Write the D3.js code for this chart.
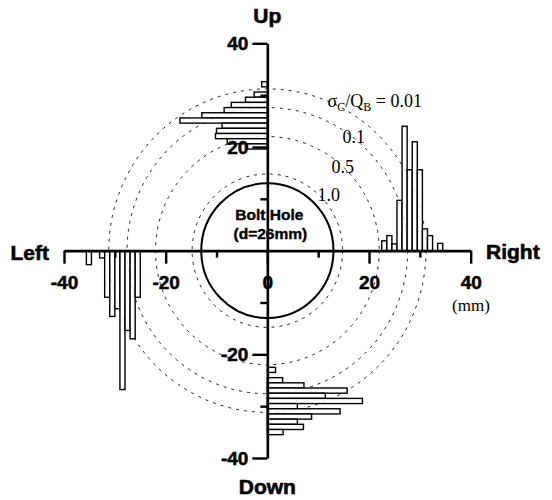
<!DOCTYPE html>
<html><head><meta charset="utf-8">
<script src="https://cdn.jsdelivr.net/npm/d3@7"></script>
<style>body{margin:0;background:#fff}svg{display:block}</style>
</head><body>
<svg id="c" width="552" height="500"></svg>
<script>
// ---- data ----
const majorTicks = [-40, -20, 0, 20, 40];
const minorTicks = [-30, -10, 10, 30];
const contourRadii = [31.2, 27.6, 22, 14.8];       // mm
const contourLabels = ["0.01", "0.1", "0.5", "1.0"];
const boltDiameter = 26;                           // mm
const binWidth = 1.0;                              // mm
// Up histogram (bars extend toward Left), centers on the y axis
const upCenters = [32.1, 30.1, 29.1, 28.1, 27.1, 26.1, 25.1, 24.1, 23.1, 22.1, 21.1, 20.1];
const upValues  = [1.1, 2.6, 4.3, 7.1, 8.5, 12.9, 17.2, 8.9, 10.0, 10.2, 7.9, 3.9];
// Right histogram (bars extend Up), centers on the x axis
const rightCenters = [23, 24, 25, 26, 27, 28, 29, 30, 31, 32, 34];
const rightValues  = [1.9, 2.9, 1.3, 9.7, 24.0, 15.6, 21.0, 15.6, 4.2, 2.9, 1.4];
// Left histogram (bars extend Down)
const leftCenters = [-35.1, -32.5, -31.5, -30.5, -29.5, -28.5, -27.5, -26.5, -25.5];
const leftValues  = [2.7, 1.4, 9.0, 12.7, 11.2, 26.8, 15.4, 17.0, 9.0];
// Down histogram (bars extend Right)
const downCenters = [-23, -25, -26, -27, -28, -29, -30, -31, -32, -33, -34, -35];
const downValues  = [1.6, 3.0, 7.2, 15.7, 11.4, 18.7, 5.9, 14.3, 8.7, 5.9, 7.1, 3.1];

// ---- drawing ----
const svg = d3.select("#c");
const xS = d3.scaleLinear().domain([-40, 40]).range([64, 470.7]);
const yS = d3.scaleLinear().domain([-40, 40]).range([458, 43.3]);
const sans = "'Liberation Sans', Arial, Helvetica, sans-serif";
const serif = "'Liberation Serif', 'Times New Roman', serif";
const cx = xS(0), cy = yS(0);

// dashed contour circles
svg.append("g").selectAll("ellipse").data(contourRadii).join("ellipse")
  .attr("cx", cx).attr("cy", cy)
  .attr("rx", d => xS(d) - cx).attr("ry", d => cy - yS(d))
  .attr("fill", "none").attr("stroke", "#222").attr("stroke-width", 1)
  .attr("stroke-dasharray", "3,5");

// bolt hole
svg.append("ellipse").attr("cx", cx).attr("cy", cy)
  .attr("rx", xS(boltDiameter / 2) - cx).attr("ry", cy - yS(boltDiameter / 2))
  .attr("fill", "none").attr("stroke", "#000").attr("stroke-width", 2);

// histograms
const barStyle = s => s.attr("fill", "#fff").attr("fill-opacity", 0.85).attr("stroke", "#000").attr("stroke-width", 1.4);
const hb = binWidth / 2;
svg.append("g").selectAll("rect").data(d3.zip(upCenters, upValues)).join("rect")
  .attr("x", d => xS(-d[1])).attr("width", d => cx - xS(-d[1]))
  .attr("y", d => yS(d[0] + hb)).attr("height", d => yS(d[0] - hb) - yS(d[0] + hb)).call(barStyle);
svg.append("g").selectAll("rect").data(d3.zip(rightCenters, rightValues)).join("rect")
  .attr("x", d => xS(d[0] - hb)).attr("width", d => xS(d[0] + hb) - xS(d[0] - hb))
  .attr("y", d => yS(d[1])).attr("height", d => cy - yS(d[1])).call(barStyle);
svg.append("g").selectAll("rect").data(d3.zip(leftCenters, leftValues)).join("rect")
  .attr("x", d => xS(d[0] - hb)).attr("width", d => xS(d[0] + hb) - xS(d[0] - hb))
  .attr("y", cy).attr("height", d => yS(-d[1]) - cy).call(barStyle);
svg.append("g").selectAll("rect").data(d3.zip(downCenters, downValues)).join("rect")
  .attr("x", cx).attr("width", d => xS(d[1]) - cx)
  .attr("y", d => yS(d[0] + hb)).attr("height", d => yS(d[0] - hb) - yS(d[0] + hb)).call(barStyle);

// axes
function styleAxis(g) {
  g.selectAll("path.domain").attr("stroke", "#000").attr("stroke-width", 2.6);
  g.selectAll(".tick line").attr("stroke", "#000").attr("stroke-width", 2.4);
  g.selectAll(".tick text").attr("fill", "#000").attr("stroke", "#000").attr("stroke-width", 0.5)
    .style("font-family", sans).style("font-weight", "bold").style("font-size", "19px");
}
const xAxis = svg.append("g").attr("transform", `translate(0,${cy})`)
  .call(d3.axisBottom(xS).tickValues(majorTicks).tickSize(13).tickSizeOuter(0).tickPadding(12)
    .tickFormat(d3.format("d")))
  .call(styleAxis);
xAxis.selectAll(".tick text").text(d => d < 0 ? "-" + Math.abs(d) : d);
svg.append("g").attr("transform", `translate(0,${cy})`)
  .call(d3.axisBottom(xS).tickValues(minorTicks).tickSize(7).tickFormat(""))
  .call(g => g.select("path.domain").remove()).call(styleAxis);

const yAxis = svg.append("g").attr("transform", `translate(${cx},0)`)
  .call(d3.axisLeft(yS).tickValues(majorTicks.filter(d => d !== 0)).tickSize(15).tickSizeOuter(0).tickPadding(4))
  .call(styleAxis);
yAxis.selectAll(".tick text").text(d => d < 0 ? "-" + Math.abs(d) : d);
svg.append("g").attr("transform", `translate(${cx},0)`)
  .call(d3.axisLeft(yS).tickValues(minorTicks).tickSize(7).tickFormat(""))
  .call(g => g.select("path.domain").remove()).call(styleAxis);

// direction titles
const title = (t, x, y, anchor) => svg.append("text").attr("x", x).attr("y", y)
  .attr("text-anchor", anchor).style("font-family", sans).style("font-weight", "bold")
  .attr("stroke", "#000").attr("stroke-width", 0.6)
  .style("font-size", "21px").text(t);
title("Up", cx, 23, "middle");
title("Down", cx, 494, "middle");
title("Left", 49, 260, "end");
title("Right", 486, 259, "start");

svg.append("text").attr("x", 471).attr("y", 311).attr("text-anchor", "middle")
  .style("font-family", serif).style("font-size", "17px").text("(mm)");

// bolt hole label
svg.append("text").attr("x", cx + 2).attr("y", 220).attr("text-anchor", "middle")
  .attr("stroke", "#000").attr("stroke-width", 0.4)
  .style("font-family", sans).style("font-weight", "bold").style("font-size", "15.5px").text("Bolt Hole");
svg.append("text").attr("x", cx + 3).attr("y", 239).attr("text-anchor", "middle")
  .attr("stroke", "#000").attr("stroke-width", 0.4)
  .style("font-family", sans).style("font-weight", "bold").style("font-size", "15.5px").text("(d=26mm)");

// contour labels
const labelPos = [[422, 107], [365, 143], [354, 173], [340, 201]];
contourLabels.forEach((lab, i) => {
  const t = svg.append("text").attr("x", labelPos[i][0]).attr("y", labelPos[i][1])
    .attr("text-anchor", "end").style("font-family", serif).style("font-size", "18px");
  if (i === 0) {
    t.append("tspan").text("σ");
    t.append("tspan").attr("dy", 4).style("font-size", "12px").text("C");
    t.append("tspan").attr("dy", -4).text("/Q");
    t.append("tspan").attr("dy", 4).style("font-size", "12px").text("B");
    t.append("tspan").attr("dy", -4).text(" = " + lab);
  } else {
    t.text(lab);
  }
});
</script>
</body></html>
